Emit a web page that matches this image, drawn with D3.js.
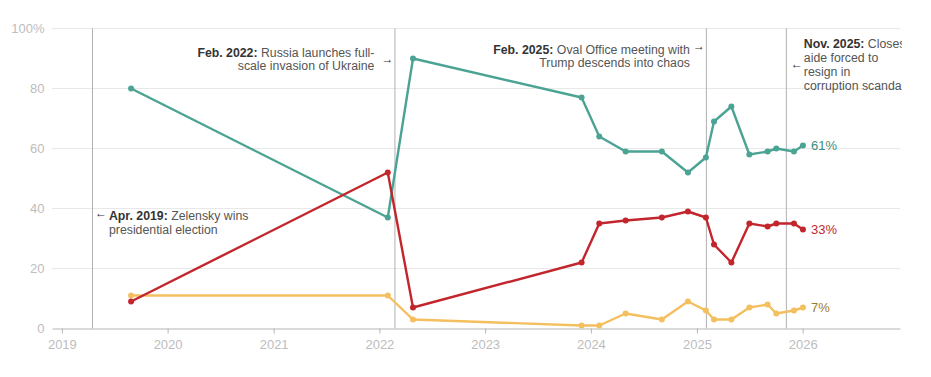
<!DOCTYPE html>
<html>
<head>
<meta charset="utf-8">
<script src="https://cdn.jsdelivr.net/npm/d3@7"></script>
<style>
  html, body { margin: 0; padding: 0; background: #fff; }
  svg { display: block; font-family: "Liberation Sans", Arial, sans-serif; }
</style>
</head>
<body>
<svg id="chart" width="931" height="377"></svg>
<script>
// ---- Data ----
const surveyDates = ["2019-08-28","2022-01-30","2022-04-27","2023-11-30","2024-01-30","2024-04-30",
  "2024-09-02","2024-12-01","2025-02-01","2025-03-01","2025-04-30","2025-07-01",
  "2025-09-02","2025-10-02","2025-12-02","2026-01-02"];
const greenValues  = [80, 37, 90, 77, 64, 59, 59, 52, 57, 69, 74, 58, 59, 60, 59, 61];
const redValues    = [ 9, 52,  7, 22, 35, 36, 37, 39, 37, 28, 22, 35, 34, 35, 35, 33];
const yellowValues = [11, 11,  3,  1,  1,  5,  3,  9,  6,  3,  3,  7,  8,  5,  6,  7];

const yTicks = [0, 20, 40, 60, 80, 100];
const yTickLabels = ["0", "20", "40", "60", "80", "100%"];
const xTickYears = [2019, 2020, 2021, 2022, 2023, 2024, 2025, 2026];

const eventDates = ["2019-04-15", "2022-02-22", "2025-02-01", "2025-11-04"];
const eventBold = ["Apr. 2019:", "Feb. 2022:", "Feb. 2025:", "Nov. 2025:"];
const eventLines = [
  [" Zelensky wins", "presidential election"],
  [" Russia launches full-", "scale invasion of Ukraine"],
  [" Oval Office meeting with", "Trump descends into chaos"],
  [" Closest", "aide forced to", "resign in", "corruption scandal"]
];

// ---- Setup ----
const parse = d3.timeParse("%Y-%m-%d");
const W = 931, H = 377;
const mLeft = 52, mRight = 900, mTop = 28.5, mBottom = 328.5;

const x = d3.scaleTime()
  .domain([parse("2018-11-28"), parse("2026-12-03")])
  .range([mLeft, mRight]);
const y = d3.scaleLinear().domain([0, 100]).range([mBottom, mTop]);

const svg = d3.select("#chart");
svg.append("defs").append("clipPath").attr("id", "clip")
  .append("rect").attr("x", 0).attr("y", 0).attr("width", 902).attr("height", H);

const root = svg.append("g").attr("clip-path", "url(#clip)");

// gridlines
root.append("g").selectAll("line").data(yTicks.filter(d => d > 0)).join("line")
  .attr("x1", mLeft).attr("x2", mRight)
  .attr("y1", d => y(d)).attr("y2", d => y(d))
  .attr("stroke", "#e8e8e8").attr("stroke-width", 1);

// y labels
root.append("g").selectAll("text").data(yTicks).join("text")
  .attr("x", 44.5).attr("y", d => y(d)).attr("dy", "0.36em")
  .attr("text-anchor", "end")
  .attr("fill", "#bdbdbd").attr("font-size", 13)
  .text((d, i) => yTickLabels[i]);

// x axis
const xAxis = d3.axisBottom(x)
  .tickValues(xTickYears.map(yr => new Date(yr, 0, 1)))
  .tickFormat(d3.timeFormat("%Y"))
  .tickSize(5).tickSizeOuter(0).tickPadding(6);
const gx = root.append("g").attr("transform", `translate(0,${mBottom})`).call(xAxis);
gx.select(".domain").attr("stroke", "#b5b5b5");
gx.selectAll(".tick line").attr("stroke", "#b5b5b5");
gx.selectAll(".tick text").attr("fill", "#bdbdbd").attr("font-size", 13)
  .attr("font-family", "Liberation Sans, Arial, sans-serif");

// event lines
root.append("g").selectAll("line").data(eventDates).join("line")
  .attr("x1", d => x(parse(d)) + 0.5).attr("x2", d => x(parse(d)) + 0.5)
  .attr("y1", mTop).attr("y2", mBottom)
  .attr("stroke", "#b0b0b0").attr("stroke-width", 1);

// series
const series = [
  { name: "yellow", values: yellowValues, color: "#f4bf5e", label: "#9e7a2e" },
  { name: "green",  values: greenValues,  color: "#4ba394", label: "#3b8f7d" },
  { name: "red",    values: redValues,    color: "#c2262c", label: "#c2262c" }
];
const line = d3.line().x(d => x(d.date)).y(d => y(d.v));
series.forEach(s => {
  const pts = surveyDates.map((d, i) => ({ date: parse(d), v: s.values[i] }));
  const g = root.append("g");
  g.append("path").datum(pts).attr("d", line)
    .attr("fill", "none").attr("stroke", s.color).attr("stroke-width", 2.4)
    .attr("stroke-linejoin", "round");
  g.selectAll("circle").data(pts).join("circle")
    .attr("cx", d => x(d.date)).attr("cy", d => y(d.v)).attr("r", 3)
    .attr("fill", s.color);
  const last = pts[pts.length - 1];
  g.append("text")
    .attr("x", x(last.date) + 8).attr("y", y(last.v)).attr("dy", "0.36em")
    .attr("fill", s.label).attr("font-size", 13)
    .text(last.v + "%");
});

// annotations
const ann = root.append("g").attr("font-size", 12.3).attr("fill", "#555");
function addText(g, xpos, ybase, lh, bold, lines, anchor) {
  const t = g.append("text").attr("text-anchor", anchor);
  lines.forEach((ln, i) => {
    if (i === 0) {
      t.append("tspan").attr("x", xpos).attr("y", ybase)
        .attr("font-weight", "bold").attr("fill", "#333").text(bold);
      t.append("tspan").text(ln);
    } else {
      t.append("tspan").attr("x", xpos).attr("y", ybase + i * lh).text(ln);
    }
  });
}
const ex = eventDates.map(d => x(parse(d)));
// Apr 2019
ann.append("text").attr("x", ex[0] + 3).attr("y", 217).attr("fill", "#333").attr("font-size", 12).text("←");
addText(ann, ex[0] + 17, 220, 13.6, eventBold[0], eventLines[0], "start");
// Feb 2022
addText(ann, ex[1] - 20, 57, 12.8, eventBold[1], eventLines[1], "end");
ann.append("text").attr("x", ex[1] - 13).attr("y", 63).attr("fill", "#333").attr("font-size", 12).text("→");
// Feb 2025
addText(ann, ex[2] - 16, 53.5, 13, eventBold[2], eventLines[2], "end");
ann.append("text").attr("x", ex[2] - 13).attr("y", 49.5).attr("fill", "#333").attr("font-size", 12).text("→");
// Nov 2025
addText(ann, ex[3] + 18, 48, 14, eventBold[3], eventLines[3], "start");
ann.append("text").attr("x", ex[3] + 5).attr("y", 68).attr("fill", "#333").attr("font-size", 12).text("←");
</script>
</body>
</html>
